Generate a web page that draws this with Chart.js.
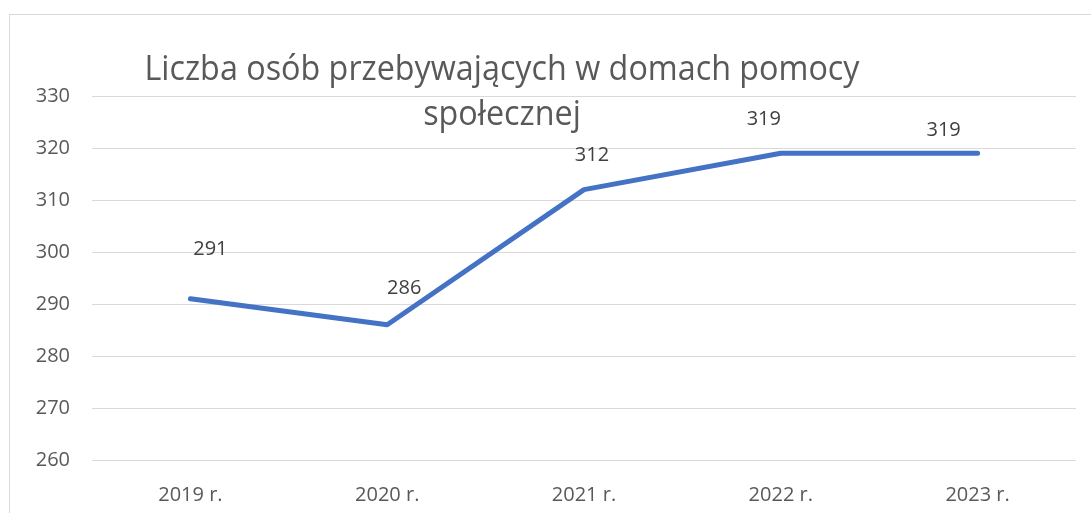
<!DOCTYPE html>
<html>
<head>
<meta charset="utf-8">
<script src="https://cdn.jsdelivr.net/npm/chart.js@4/dist/chart.umd.min.js"></script>
<style>
  body { margin: 0; background: #fff; }
  #frame { position: absolute; left: 9px; top: 14px; width: 1200px; height: 600px; border: 1px solid #d9d9d9; }
  #wrap { position: absolute; left: 0; top: 0; width: 1091px; height: 513px; }
</style>
</head>
<body>
<div id="frame"></div>
<div id="wrap"><canvas id="chart"></canvas></div>
<script>
const years = ["2019 r.", "2020 r.", "2021 r.", "2022 r.", "2023 r."];
const persons = [291, 286, 312, 319, 319];
const yTicks = [260, 270, 280, 290, 300, 310, 320, 330];
const titleLines = ["Liczba osób przebywających w domach pomocy", "społecznej"];

// where each value label sits relative to its point (as placed in the original)
const labelShift = [[20, -50], [17, -37], [8, -34], [-17, -34], [-34, -23]];

const textColor = "#595959";
const font = "'Open Sans', 'Noto Sans', sans-serif";

const overlay = {
    id: "overlay",
    afterDatasetsDraw(chart) {
        const ctx = chart.ctx;
        const meta = chart.getDatasetMeta(0);
        ctx.save();
        ctx.fillStyle = "#404040";
        ctx.font = "20px " + font;
        ctx.textAlign = "center";
        ctx.textBaseline = "middle";
        meta.data.forEach((pt, i) => {
            ctx.fillText(String(persons[i]), pt.x + labelShift[i][0], pt.y + labelShift[i][1]);
        });

        // title drawn over the plot, squeezed to the narrow original face
        ctx.fillStyle = textColor;
        ctx.font = "35px " + font;
        ctx.textBaseline = "alphabetic";
        const squeeze = 715 / ctx.measureText(titleLines[0]).width;
        const cx = 502;
        [80, 125].forEach((base, i) => {
            ctx.save();
            ctx.translate(cx, base);
            ctx.scale(squeeze, 1);
            ctx.fillText(titleLines[i], 0, 0);
            ctx.restore();
        });
        ctx.restore();
    }
};

new Chart(document.getElementById("chart"), {
    type: "line",
    data: {
        labels: years,
        datasets: [{
            data: persons,
            borderColor: "#4472C4",
            borderWidth: 5,
            borderCapStyle: "round",
            borderJoinStyle: "round",
            pointRadius: 0,
            tension: 0
        }]
    },
    options: {
        responsive: true,
        maintainAspectRatio: false,
        animation: false,
        layout: { padding: { top: 96, right: 15, bottom: 0, left: 0 } },
        plugins: { legend: { display: false }, tooltip: { enabled: false }, title: { display: false } },
        scales: {
            x: {
                offset: true,
                grid: { display: false },
                border: { display: false },
                ticks: { color: textColor, font: { family: font, size: 20 }, padding: 15, maxRotation: 0 },
                afterFit: s => { s.height = 53; }
            },
            y: {
                min: 260,
                max: 330,
                afterBuildTicks: s => { s.ticks = yTicks.map(v => ({ value: v })); },
                grid: { color: "#d9d9d9", lineWidth: 1, drawTicks: false },
                border: { display: false },
                ticks: { color: textColor, font: { family: font, size: 20 }, padding: 22 },
                afterFit: s => { s.width = 92; }
            }
        }
    },
    plugins: [overlay]
});
</script>
</body>
</html>
